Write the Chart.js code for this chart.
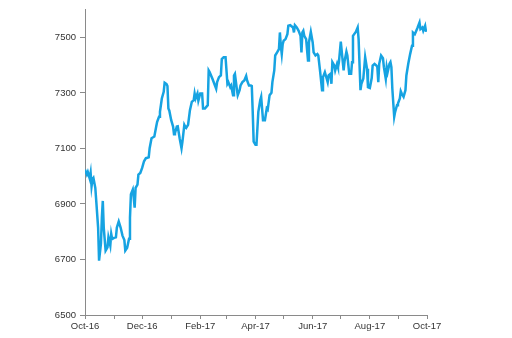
<!DOCTYPE html>
<html>
<head>
<meta charset="utf-8">
<script src="https://cdn.jsdelivr.net/npm/chart.js@4"></script>
<style>
  html, body { margin: 0; padding: 0; background: #fff; }
  #wrap { width: 512px; height: 338px; position: relative; }
</style>
</head>
<body>
<div id="wrap"><canvas id="chart"></canvas></div>
<script>
// day offsets from 1 Oct 2016, and index level
const days = [
  0, 2, 3, 5, 6, 7, 8, 9, 11, 12, 14, 15, 17, 18, 19, 20, 22, 24, 25, 27, 28, 29, 31, 33, 34, 36, 38, 40, 42, 43,
  45, 47, 48, 49, 51, 52, 53, 54, 56, 57, 59, 61, 63,
  65, 68, 69, 71, 74, 76, 77, 79, 80, 82, 84, 85, 87, 88, 89, 90, 92, 94, 95, 96, 98, 99, 101, 103, 104, 106, 107,
  108, 110, 112, 114, 116, 117, 118, 120, 121, 123, 125, 126, 128, 131, 132, 133, 136, 138, 140, 141, 143, 145,
  146, 148, 150, 152, 153, 155, 156, 158, 159, 160, 162, 163, 165, 166, 168, 170, 172, 173, 175, 177, 178, 179,
  180, 182, 183, 185, 187, 188, 190, 192, 194, 195, 197, 199, 200, 202, 203, 205, 207, 208, 209, 210, 211, 212,
  214, 216, 217, 219, 222, 223, 224, 226, 228,
  230, 231, 232, 233, 234, 236, 238, 239, 241, 243, 244, 246, 248, 249, 251, 253, 254, 256, 257, 259, 260, 262,
  263, 264, 266, 267, 269, 270, 271, 273, 274, 276, 277, 279, 280, 282, 284, 285, 286, 289, 291, 292, 294, 295,
  297, 299, 301, 302, 304, 306, 307, 309, 311, 312, 313, 314, 316, 318, 319, 321, 322, 323, 325, 326, 327, 328,
  330, 331, 333, 334, 336, 337, 338, 340, 342, 343, 345, 347, 349, 350, 352, 353, 355, 357, 358, 360, 361, 363, 364
];
const prices = [
  7024, 7006, 7015, 6992, 7012, 6964, 6989, 6994, 6958, 6911, 6815, 6696, 6757, 6851, 6911, 6815, 6732, 6744, 6780, 6750, 6792, 6774, 6778, 6780, 6815, 6837, 6815, 6786, 6770, 6732,
  6742, 6775, 6851, 6935, 6952, 6922, 6887, 6958, 6970, 7006, 7012, 7030, 7054,
  7065, 7068, 7101, 7137, 7143, 7179, 7196, 7214, 7232, 7280, 7304, 7337, 7332, 7325, 7244, 7236, 7202, 7179, 7151, 7155, 7179, 7180, 7137, 7101, 7125, 7185, 7178,
  7174, 7185, 7238, 7268, 7274, 7298, 7280, 7298, 7272, 7298, 7298, 7244, 7244, 7256, 7381, 7375, 7351, 7333, 7315, 7339, 7357, 7363,
  7422, 7429, 7429, 7333, 7339, 7321, 7327, 7292, 7363, 7369, 7315, 7292, 7310, 7327, 7339, 7345, 7361, 7345, 7327, 7327, 7325, 7232,
  7125, 7113, 7113, 7232, 7274, 7286, 7202, 7202, 7244, 7240, 7292, 7301, 7339, 7381, 7435, 7446, 7458, 7518, 7470, 7440, 7476, 7488,
  7494, 7512, 7542, 7544, 7536, 7518, 7544, 7536, 7524,
  7506, 7446, 7518, 7524, 7506, 7494, 7417, 7482, 7520, 7482, 7446, 7435, 7440, 7435, 7375, 7310, 7357, 7375, 7363, 7339, 7363, 7369,
  7333, 7411, 7399, 7381, 7405, 7393, 7411, 7485, 7450, 7381, 7414, 7449, 7435, 7369, 7369, 7411, 7506, 7520, 7536, 7494, 7310, 7333,
  7351, 7429, 7387, 7321, 7318, 7354, 7399, 7405, 7399, 7393, 7339, 7405, 7435, 7425, 7393, 7351, 7393, 7375, 7405, 7411, 7393, 7315,
  7214, 7232, 7256, 7262, 7280, 7306, 7298, 7286, 7310, 7363, 7405, 7440, 7470, 7518, 7512, 7520, 7536, 7554, 7530, 7536, 7524, 7542, 7520
];

// month starts (day offsets) and their labels, only every second one is labelled
const monthStarts = [0, 31, 61, 92, 123, 151, 182, 212, 243, 273, 304, 335, 365];
const monthLabels = ["Oct-16", "", "Dec-16", "", "Feb-17", "", "Apr-17", "", "Jun-17", "", "Aug-17", "", "Oct-17"];
const yTicks = [6500, 6700, 6900, 7100, 7300, 7500];

const axisColor = "#8a8a8a";
const textColor = "#333333";

const points = days.map((d, i) => ({ x: d, y: prices[i] }));

new Chart(document.getElementById("chart"), {
  type: "line",
  data: {
    datasets: [{
      data: points,
      borderColor: "#16a3e2",
      borderWidth: 2.5,
      pointRadius: 0,
      tension: 0,
      fill: false
    }]
  },
  options: {
    responsive: true,
    maintainAspectRatio: false,
    animation: false,
    layout: { padding: { left: 0, right: 85, top: 7, bottom: 0 } },
    plugins: { legend: { display: false }, tooltip: { enabled: false } },
    scales: {
      x: {
        type: "linear",
        min: 0,
        max: 365,
        afterBuildTicks: scale => { scale.ticks = monthStarts.map(v => ({ value: v })); },
        afterFit: scale => { scale.height = 23; },
        border: { color: axisColor, width: 1 },
        grid: { drawOnChartArea: false, drawTicks: true, tickLength: 4, color: axisColor },
        ticks: {
          autoSkip: false,
          maxRotation: 0,
          padding: 2,
          color: textColor,
          font: { family: "Liberation Sans, Arial, sans-serif", size: 9.5 },
          callback: (v, i) => monthLabels[i]
        }
      },
      y: {
        min: 6500,
        max: 7600,
        afterBuildTicks: scale => { scale.ticks = yTicks.map(v => ({ value: v })); },
        afterFit: scale => { scale.width = 85; },
        border: { color: axisColor, width: 1 },
        grid: { drawOnChartArea: false, drawTicks: true, tickLength: 5, color: axisColor },
        ticks: {
          padding: 4,
          color: textColor,
          font: { family: "Liberation Sans, Arial, sans-serif", size: 9.5 },
          callback: v => String(v)
        }
      }
    }
  }
});
</script>
</body>
</html>
